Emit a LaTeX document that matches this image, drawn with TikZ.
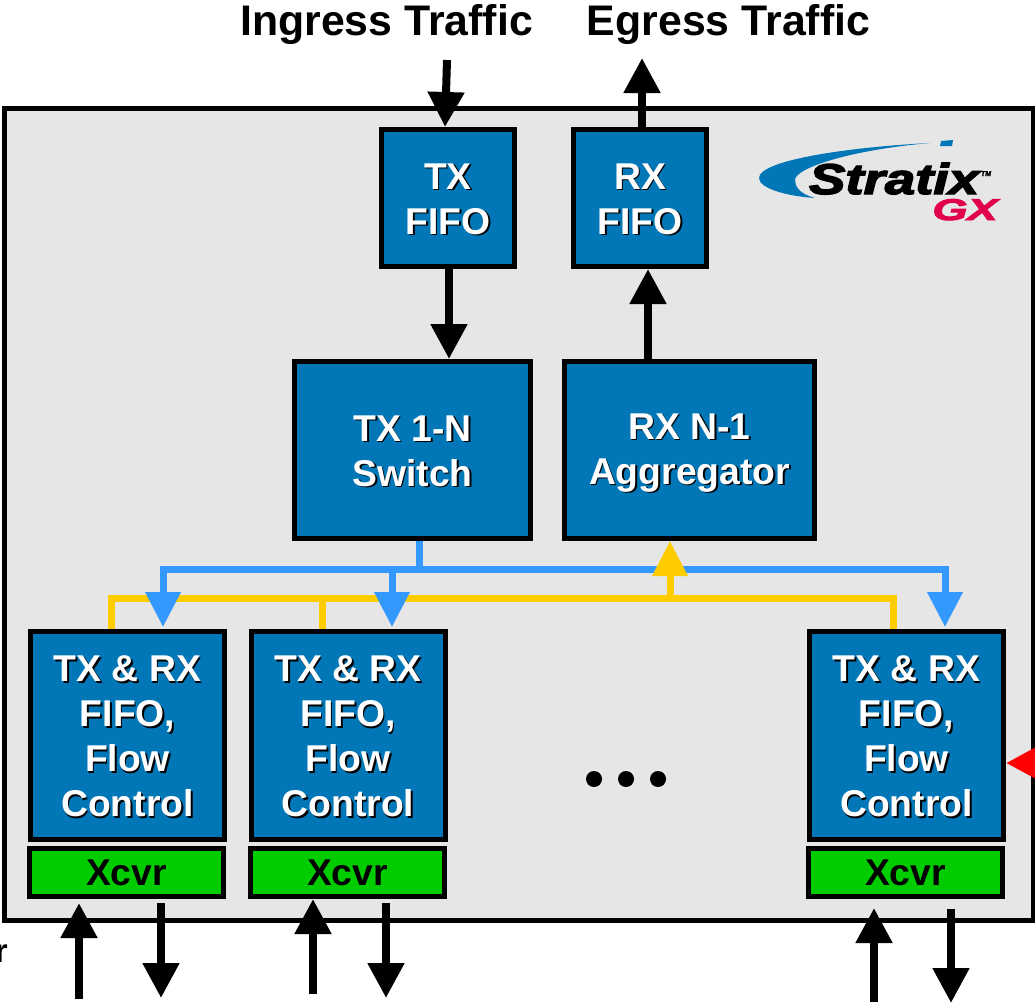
\documentclass[tikz,border=0pt]{standalone}
\usepackage{fontspec}
\setmainfont{Liberation Sans}
\newfontfamily\logofont[UprightFont=* Bold Italic,FakeBold=3]{Liberation Sans}
\usetikzlibrary{arrows.meta}
\definecolor{boxblue}{HTML}{0277B8}
\definecolor{xcvrgreen}{HTML}{00CC00}
\definecolor{panelgray}{HTML}{E6E6E6}
\definecolor{txblue}{HTML}{3399FF}
\definecolor{rxyellow}{HTML}{FFCC00}
\definecolor{gxred}{HTML}{E0004D}
\newcommand{\shtxt}[1]{\leavevmode\rule[-6pt]{0pt}{39pt}\rlap{\hspace{1.6pt}\raisebox{-1.6pt}{\textcolor{black}{#1}}}\textcolor{white}{#1}}
\tikzset{
  block/.style={draw=black,fill=boxblue,line width=5pt,inner sep=0pt,align=center,font=\fontsize{37.3}{45}\selectfont\bfseries},
  xcvr/.style={draw=black,fill=xcvrgreen,line width=5pt,inner sep=0pt,minimum width=194pt,minimum height=48pt,font=\fontsize{37.3}{45}\selectfont\bfseries},
  head/.style={inner sep=0pt,anchor=base,font=\fontsize{42.8}{45}\selectfont\bfseries},
  bigarrow/.style={line width=8pt,-{Triangle[length=35pt,width=35pt]}},
  busline/.style={line width=7pt},
  busarrow/.style={line width=7pt,-{Triangle[length=35pt,width=34pt]}},
  dotmark/.style={circle,fill=black,inner sep=0pt,minimum size=16pt}
}
\begin{document}
\begin{tikzpicture}[x=1pt,y=-1pt]
    \useasboundingbox (0,0) rectangle (1035,1005);
    \node[draw=black,fill=panelgray,line width=5pt,inner sep=0pt,minimum width=1029pt,minimum height=812pt](panel)at(518.5, 514.5){};
    % logo
    \fill[boxblue] (930,143) .. controls (850,147) and (759,160) .. (759,178) .. controls (759,188) and (785,196) .. (815,198) .. controls (800,194) and (795,187) .. (795,180) .. controls (795,168) and (850,150) .. (930,143) -- cycle;
    \fill[boxblue] (941,141) -- (953,140) -- (952,146) -- (940,146) -- cycle;
    \node[inner sep=0pt,anchor=base,xscale=1.27,font=\fontsize{43}{43}\logofont](stratix)at(894, 194){Stratix};
    \node[inner sep=0pt,anchor=base,font=\fontsize{7}{7}\logofont](tm)at(986, 176){TM};
    \node[inner sep=0pt,anchor=base,xscale=1.5,text=gxred,font=\fontsize{30}{30}\logofont](gx)at(965, 220){GX};
    % blocks
    \node[block,minimum width=133pt,minimum height=137pt](txfifo)at(448, 198){\shtxt{TX}\\\shtxt{FIFO}};
    \node[block,minimum width=133pt,minimum height=137pt](rxfifo)at(640, 198){\shtxt{RX}\\\shtxt{FIFO}};
    \node[block,minimum width=236pt,minimum height=177pt](switch)at(412.5, 450){\shtxt{TX 1-N}\\\shtxt{Switch}};
    \node[block,minimum width=250pt,minimum height=177pt](aggr)at(689.5, 450){\shtxt{RX N-1}\\\shtxt{Aggregator}};
    \node[block,minimum width=194pt,minimum height=208pt](portA)at(127.5, 735.5){\shtxt{TX \& RX}\\\shtxt{FIFO,}\\\shtxt{Flow}\\\shtxt{Control}};
    \node[block,minimum width=194pt,minimum height=208pt](portB)at(348, 735.5){\shtxt{TX \& RX}\\\shtxt{FIFO,}\\\shtxt{Flow}\\\shtxt{Control}};
    \node[block,minimum width=194pt,minimum height=208pt](portC)at(906.5, 735.5){\shtxt{TX \& RX}\\\shtxt{FIFO,}\\\shtxt{Flow}\\\shtxt{Control}};
    \node[xcvr](xcvrA)at(126.5, 872.5){Xcvr};
    \node[xcvr](xcvrB)at(347.5, 872.5){Xcvr};
    \node[xcvr](xcvrC)at(905.5, 872.5){Xcvr};
    \foreach \i/\x in {A/594,B/626,C/658}
        \node[dotmark](dot\i)at(\x, 779){};
    % labels
    \node[head](ingress)at(386.5, 35){Ingress Traffic};
    \node[head](egress)at(728.5, 35){Egress Traffic};
    \node[inner sep=0pt,anchor=base east,font=\fontsize{33}{33}\selectfont\bfseries](cutlabel)at(8, 962){r};
    % free ends of the arrows
    \coordinate(ingressin)at(447, 60);
    \coordinate(ingresstip)at(445, 127);
    \coordinate(egressout)at(642, 58);
    \coordinate(txdown)at(449, 359);
    \coordinate(rxup)at(648, 269);
    \coordinate(redin)at(1045, 763);
    \coordinate(linkAin)at(79, 999);
    \coordinate(linkAintip)at(79, 903);
    \coordinate(linkAout)at(161, 903);
    \coordinate(linkAouttip)at(161, 998);
    \coordinate(linkBin)at(313, 994);
    \coordinate(linkBintip)at(313, 899);
    \coordinate(linkBout)at(386, 903);
    \coordinate(linkBouttip)at(386, 998);
    \coordinate(linkCin)at(874, 1002);
    \coordinate(linkCintip)at(874, 908);
    \coordinate(linkCout)at(951, 909);
    \coordinate(linkCouttip)at(951, 1003);
    % buses
    \coordinate(bluemid)at(419, 569);
    \coordinate(blueA)at(163, 569);
    \coordinate(blueB)at(392, 569);
    \coordinate(blueC)at(945, 569);
    \coordinate(yellowmid)at(670, 598);
    \coordinate(yellowA)at(111, 598);
    \coordinate(yellowB)at(322, 598);
    \coordinate(yellowC)at(893, 598);
    \draw[bigarrow] (ingressin) -- (ingresstip);
    \draw[bigarrow] (rxfifo.north -| egressout) -- (egressout);
    \draw[bigarrow] (txfifo.south -| txdown) -- (txdown);
    \draw[bigarrow] (aggr.north -| rxup) -- (rxup);
    \draw[txblue,busline] (switch.south -| bluemid) -- (bluemid);
    \draw[txblue,busline,line cap=rect] (blueA) -- (blueC);
    \draw[rxyellow,busline,line cap=rect] (yellowA) -- (yellowC);
    \draw[rxyellow,busline] (yellowA) -- (portA.north -| yellowA);
    \draw[rxyellow,busline] (yellowB) -- (portB.north -| yellowB);
    \draw[rxyellow,busline] (yellowC) -- (portC.north -| yellowC);
    \draw[rxyellow,busarrow] (yellowmid) -- (aggr.south -| yellowmid);
    \draw[txblue,busarrow,shorten >=2pt] (blueA) -- (portA.north -| blueA);
    \draw[txblue,busarrow,shorten >=2pt] (blueB) -- (portB.north -| blueB);
    \draw[txblue,busarrow,shorten >=2pt] (blueC) -- (portC.north -| blueC);
    \draw[red,bigarrow] (redin) -- (portC.east |- redin);
    \draw[bigarrow] (linkAin) -- (linkAintip);
    \draw[bigarrow] (linkAout) -- (linkAouttip);
    \draw[bigarrow] (linkBin) -- (linkBintip);
    \draw[bigarrow] (linkBout) -- (linkBouttip);
    \draw[bigarrow] (linkCin) -- (linkCintip);
    \draw[bigarrow] (linkCout) -- (linkCouttip);
\end{tikzpicture}
\end{document}
